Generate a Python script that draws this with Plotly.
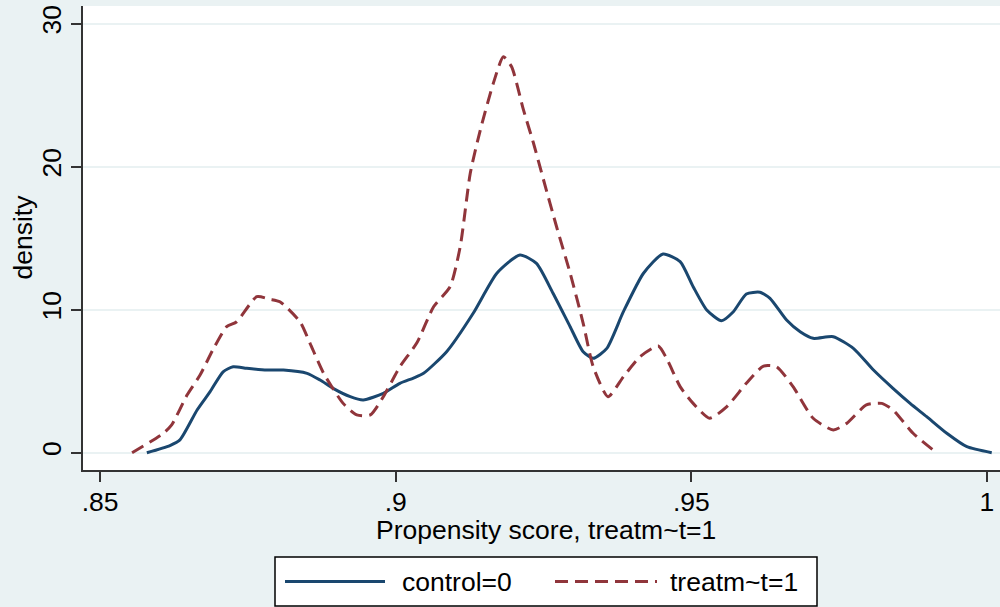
import plotly.graph_objects as go

# Control group (treatment=0) kernel density
control_x = [0.8579, 0.8618, 0.8635, 0.8664, 0.8686, 0.8708, 0.8725, 0.8748, 0.8782, 0.8810,
             0.8850, 0.8872, 0.8894, 0.8923, 0.8945, 0.8979, 0.9007, 0.9030, 0.9047, 0.9086,
             0.9131, 0.9171, 0.9210, 0.9238, 0.9266, 0.9295, 0.9317, 0.9334, 0.9357, 0.9385,
             0.9419, 0.9452, 0.9481, 0.9503, 0.9526, 0.9551, 0.9571, 0.9593, 0.9616, 0.9633,
             0.9661, 0.9684, 0.9706, 0.9740, 0.9774, 0.9808, 0.9841, 0.9870, 0.9898, 0.9932,
             0.9966, 1.0008]
control_y = [0.0, 0.50, 0.90, 2.99, 4.27, 5.66, 6.01, 5.90, 5.78, 5.78,
             5.55, 5.08, 4.50, 3.92, 3.69, 4.15, 4.85, 5.22, 5.55, 7.06,
             9.75, 12.55, 13.83, 13.24, 11.15, 8.81, 7.06, 6.60, 7.30, 9.86,
             12.55, 13.90, 13.36, 11.61, 9.98, 9.23, 9.86, 11.10, 11.22, 10.80,
             9.28, 8.46, 8.00, 8.11, 7.30, 5.78, 4.50, 3.45, 2.52, 1.36,
             0.42, 0.0]

# Treated group (treatment=1) kernel density
treated_x = [0.8554, 0.8607, 0.8621, 0.8647, 0.8669, 0.8692, 0.8714, 0.8731, 0.8765, 0.8787,
             0.8804, 0.8838, 0.8855, 0.8878, 0.8911, 0.8934, 0.8957, 0.8979, 0.9007, 0.9036,
             0.9064, 0.9092, 0.9109, 0.9126, 0.9143, 0.9165, 0.9182, 0.9196, 0.9216, 0.9233,
             0.9250, 0.9272, 0.9295, 0.9317, 0.9334, 0.9359, 0.9385, 0.9413, 0.9444, 0.9458,
             0.9481, 0.9503, 0.9531, 0.9560, 0.9593, 0.9622, 0.9644, 0.9672, 0.9706, 0.9740,
             0.9763, 0.9796, 0.9822, 0.9841, 0.9875, 0.9909]
treated_y = [0.0, 1.36, 1.94, 4.03, 5.43, 7.30, 8.81, 9.16, 10.91, 10.73,
             10.56, 9.16, 7.65, 5.55, 3.45, 2.64, 2.64, 3.92, 6.01, 7.70,
             10.21, 11.61, 14.41, 19.54, 22.57, 25.83, 27.69, 26.99, 23.97, 21.64,
             19.07, 15.80, 12.55, 9.05, 6.01, 3.92, 5.31, 6.71, 7.46, 6.60,
             4.62, 3.45, 2.41, 3.22, 4.85, 6.06, 6.01, 4.62, 2.41, 1.59,
             2.06, 3.34, 3.45, 2.99, 1.36, 0.19]

x_ticks = [0.85, 0.9, 0.95, 1.0]
x_tick_labels = [".85", ".9", ".95", "1"]
y_ticks = [0, 10, 20, 30]
y_tick_labels = ["0", "10", "20", "30"]

x_title = "Propensity score, treatm~t=1"
y_title = "density"
series_names = ["control=0", "treatm~t=1"]

BLUE = "#1a476f"
RED = "#90353b"
BG = "#eaf2f3"
FONT = "Liberation Sans, Arial, sans-serif"
FS = 26.5

fig = go.Figure()
fig.add_trace(go.Scatter(x=control_x, y=control_y, mode="lines", name=series_names[0],
                         line=dict(color=BLUE, width=3, shape="spline", smoothing=0.6)))
fig.add_trace(go.Scatter(x=treated_x, y=treated_y, mode="lines", name=series_names[1],
                         line=dict(color=RED, width=3, dash="13px,7px", shape="spline", smoothing=0.6)))

# Manual legend (Stata style, long line samples) and axis titles
def px_x(p):
    return (p - 83) / 917.0

def px_y(p):
    return (470 - p) / 464.0

shapes = [
    dict(type="rect", xref="paper", yref="paper", x0=px_x(275), x1=px_x(817), y0=px_y(606), y1=px_y(557),
         line=dict(color="#000000", width=1.5), fillcolor="white", layer="below"),
    dict(type="line", xref="paper", yref="paper", x0=px_x(285), x1=px_x(385), y0=px_y(581.5), y1=px_y(581.5),
         line=dict(color=BLUE, width=3)),
    dict(type="line", xref="paper", yref="paper", x0=px_x(555), x1=px_x(657), y0=px_y(581.5), y1=px_y(581.5),
         line=dict(color=RED, width=3, dash="13px,7px")),
]
annotations = [
    dict(xref="paper", yref="paper", x=px_x(400), y=px_y(581.5), text=series_names[0], showarrow=False,
         xanchor="left", yanchor="middle", font=dict(size=FS, color="#000000", family=FONT)),
    dict(xref="paper", yref="paper", x=px_x(668), y=px_y(581.5), text=series_names[1], showarrow=False,
         xanchor="left", yanchor="middle", font=dict(size=FS, color="#000000", family=FONT)),
    dict(xref="paper", yref="paper", x=px_x(545.5), y=px_y(530), text=x_title, showarrow=False,
         xanchor="center", yanchor="middle", font=dict(size=FS, color="#000000", family=FONT)),
    dict(xref="paper", yref="paper", x=px_x(22), y=px_y(237.5), text=y_title, showarrow=False, textangle=-90,
         xanchor="center", yanchor="middle", font=dict(size=FS, color="#000000", family=FONT)),
]

fig.update_layout(
    width=1000, height=607,
    margin=dict(l=83, r=0, t=6, b=137, autoexpand=False),
    paper_bgcolor=BG, plot_bgcolor="white",
    showlegend=False,
    font=dict(family=FONT, size=FS, color="#000000"),
    shapes=shapes, annotations=annotations,
    xaxis=dict(range=[0.8471, 1.0022], tickvals=x_ticks, ticktext=x_tick_labels, automargin=False,
               ticklabeloverflow="allow", ticklabelstandoff=-3,
               showgrid=False, zeroline=False, showline=True, linecolor="#333333", linewidth=1.5,
               ticks="outside", ticklen=10, tickwidth=1.5, tickcolor="#333333",
               tickfont=dict(size=FS)),
    yaxis=dict(range=[-1.21, 31.24], tickvals=y_ticks, ticktext=y_tick_labels, tickangle=-90, automargin=False,
               ticklabeloverflow="allow",
               showgrid=True, gridcolor=BG, gridwidth=2, zeroline=False,
               showline=True, linecolor="#333333", linewidth=1.5,
               ticks="outside", ticklen=10, tickwidth=1.5, tickcolor="#333333",
               tickfont=dict(size=FS)),
)

fig.write_html("out.html", config={"displayModeBar": False},
               post_script="document.body.style.margin='0';document.body.style.overflow='hidden';")
